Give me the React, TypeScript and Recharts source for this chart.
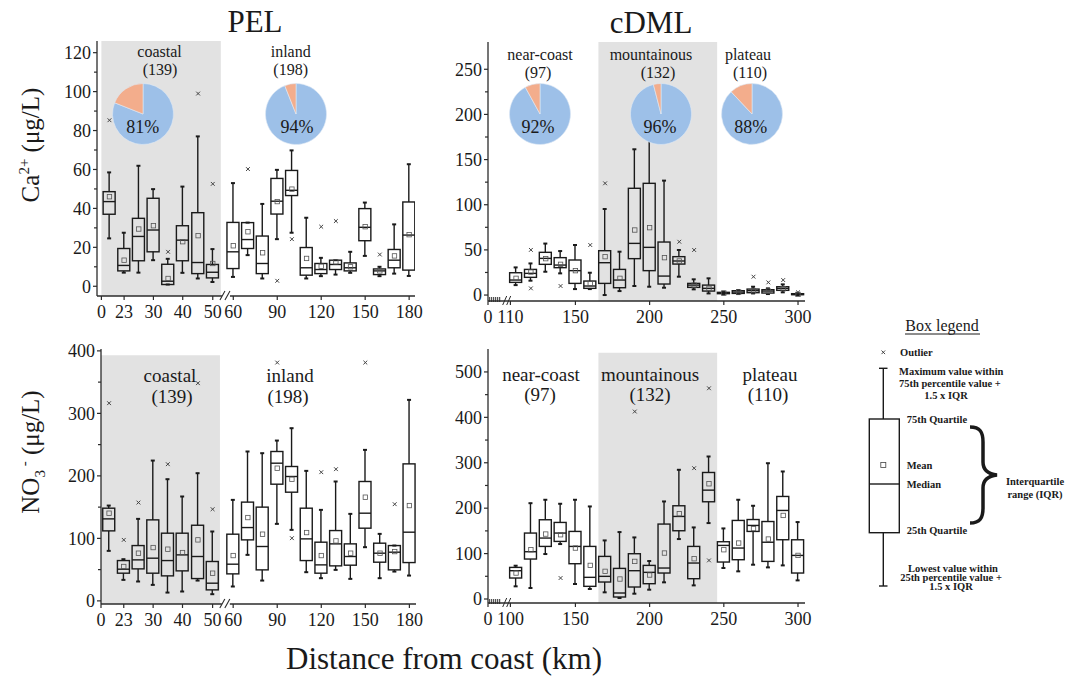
import React from "react";
import {
  ComposedChart,
  Bar,
  Scatter,
  XAxis,
  YAxis,
  ReferenceArea,
  ReferenceDot,
  PieChart,
  Pie,
  Cell,
} from "recharts";

const SERIF = '"Liberation Serif", "Times New Roman", serif';
const INK = "#1a1a1a";
const AXIS = "#2b2b2b";
const SHADE = "#e2e2e2";
const BLUE = "#9dc0e8";
const SALMON = "#f3ad8c";

// ---- PEL (x in plotting slots, broken axis) ----
const pelSlots = [0.55, 1.55, 2.55, 3.55, 4.55, 5.55, 6.6, 7.6, 9, 10, 11, 12, 13, 14, 15, 16, 17, 18, 19, 20, 21];
const pelTicks = [0, 1.55, 3.55, 5.55, 7.6, 9, 12, 15, 18, 21];
const pelTickLabels = ["0", "23", "30", "40", "50", "60", "90", "120", "150", "180"];

const pelCaLow = [24.6, 7, 7, 13.4, 0.9, 6.9, 4, 2.2, 4.8, 16, 4, 24.2, 27.5, 4, 5.2, 6, 6.9, 15.6, 5.2, 6.5, 5.3];
const pelCaQ1 = [37, 7.9, 13.1, 17.7, 0.9, 13.1, 6.5, 4.3, 9.1, 19.4, 6.5, 37.1, 46.6, 5.7, 6.5, 8.6, 7.9, 23.4, 6, 9.5, 8.3];
const pelCaMedian = [43.5, 10.7, 25.6, 28.9, 2.6, 23.7, 12.2, 7.2, 17.7, 24, 11.7, 43.7, 49.3, 9.5, 8.6, 11.2, 9.5, 30.3, 7.9, 13.4, 26.3];
const pelCaQ3 = [48.6, 19.4, 34.9, 45.2, 11.3, 31.1, 37.8, 11.2, 32.8, 32.7, 25.8, 55.4, 59.5, 19.9, 11.7, 13.4, 12, 39.9, 8.9, 18.9, 43.3];
const pelCaHigh = [58.5, 27.5, 61.9, 49.9, 14.1, 51.2, 77, 19.1, 53, 32.7, 42.3, 59.8, 69.8, 35.2, 14.6, 13.4, 17.7, 43, 10, 31.8, 62.7];
const pelCaMean = [46, 13.4, 29.4, 31.1, 4, 22.9, 26, 11.7, 20.8, 28, 17.2, 43.5, 49.9, 14.3, 10.3, 12.5, 10, 30.6, 7.9, 15.6, 26.5];
const pelCaOutX = [0.55, 4.55, 6.6, 7.6, 10, 12, 13, 15, 16, 19];
const pelCaOutY = [85.3, 17.7, 99, 52.6, 60.2, 2.8, 24.2, 30.6, 33.5, 16.3];

const pelNoLow = [80, 33.6, 31, 25.6, 13.3, 15, 32.5, 10.7, 23, 73.6, 32.5, 123.2, 113.6, 45.9, 36.3, 49.6, 35.2, 85.9, 36.3, 46.9, 40.5];
const pelNoQ1 = [112, 44.3, 51.2, 44.3, 40, 48, 35.7, 17.6, 43.2, 97.6, 49.6, 186.7, 173.9, 64.5, 44.3, 56, 57.1, 116.3, 61.9, 49.6, 61.3];
const pelNoMedian = [131.2, 50.7, 65.6, 68.3, 64.5, 73.6, 71, 28.3, 58.7, 117.3, 87, 220.3, 199, 99.2, 57.6, 91.2, 71, 140.3, 76.3, 77.9, 109.9];
const pelNoQ3 = [148.3, 64.5, 88.5, 129.6, 108.3, 108.3, 121, 63, 106.7, 158, 150, 239, 215, 148.3, 93.9, 112.5, 91.2, 191, 92.3, 88.5, 219.2];
const pelNoHigh = [152.5, 66.7, 131.2, 224.5, 194.7, 167, 204.3, 111, 161.6, 239, 236.3, 256.5, 276.3, 208, 145.6, 191, 139.2, 241.6, 107.2, 88.5, 321.6];
const pelNoMean = [140.3, 55, 76.3, 85.3, 82.7, 77.3, 97.6, 44.3, 72.5, 133.3, 106.7, 212.3, 194.7, 109.3, 72.5, 96, 76.3, 165.9, 76.3, 78.9, 152.5];
const pelNoOutX = [0.55, 1.55, 2.55, 4.55, 6.6, 7.6, 12, 13, 15, 16, 18, 20];
const pelNoOutY = [316.3, 97.6, 157.3, 218.7, 348.3, 146.7, 381.3, 100.3, 205.9, 210.7, 381.3, 154.7];

// ---- cDML (x in km) ----
const cdmlKm = [110, 120, 130, 140, 150, 160, 170, 180, 190, 200, 210, 220, 230, 240, 250, 260, 270, 280, 290, 300];
const cdmlTicks = [91.1, 106.2, 150, 200, 250, 300];
const cdmlCaTickLabels = ["0", "110", "150", "200", "250", "300"];
const cdmlNoTickLabels = ["0", "100", "150", "200", "250", "300"];

const cdmlCaLow = [11, 15.9, 25.8, 24, 6.6, 6.6, 0, 4.4, 10, 9.2, 8.1, 20.3, 6.3, 1.8, 0.7, 1.1, 1.8, 1.1, 3, 0];
const cdmlCaQ1 = [14, 19.6, 34, 30.3, 12.9, 7.4, 12.9, 8.1, 40.3, 27, 12.2, 34.3, 8.5, 4.4, 1.5, 1.8, 2.6, 2.2, 5.2, 0.4];
const cdmlCaMedian = [16.6, 24, 40.6, 33.2, 27, 10, 35.8, 16.6, 57.2, 52.8, 21, 37.7, 11, 7.4, 2.2, 3.3, 4.8, 4.4, 7.4, 0.7];
const cdmlCaQ3 = [24.7, 28.4, 47.3, 41.4, 38.8, 15.5, 49.1, 28.4, 118.2, 123.7, 58.7, 42.5, 12.9, 11, 3, 4.8, 6.6, 5.9, 9.2, 1.5];
const cdmlCaHigh = [30.6, 35, 57, 48.7, 55.4, 24.7, 95.3, 48, 161.4, 185, 126.7, 49.9, 17.4, 18.5, 3.7, 5.5, 9.2, 7.4, 11.8, 2.2];
const cdmlCaMean = [18.5, 25.5, 40.3, 34, 27, 12.9, 42.5, 18.5, 72, 74.6, 41.4, 37.7, 11, 7.4, 2.2, 3.3, 4.8, 4.4, 7, 0.7];
const cdmlCaOutX = [120, 120, 140, 160, 170, 220, 230, 270, 280, 290, 300];
const cdmlCaOutY = [50, 7.4, 10, 55.4, 123.7, 59, 49.9, 20.3, 14, 16.6, 3];

const cdmlNoLow = [27.9, 24.2, 99, 121, 33, 22, 14.7, 2.2, 11.7, 20.5, 36.7, 132, 30, 167.2, 68.2, 60.9, 75.5, 69.6, 74, 41];
const cdmlNoQ1 = [46.2, 88, 115.8, 126.8, 77.7, 27.9, 37.4, 4.4, 26.4, 33.7, 57.2, 150.3, 44.7, 214.1, 81.4, 86.5, 148.8, 82.8, 130.5, 57.2];
const cdmlNoMedian = [62.3, 104.1, 134.2, 145.2, 115.8, 47.7, 49.9, 13.2, 62.3, 58.7, 68.2, 181.8, 79.2, 239.7, 118, 112.2, 162, 125, 195, 96];
const cdmlNoQ3 = [69.6, 145.2, 174.5, 168.6, 148.8, 115.8, 93.8, 67.4, 99.7, 74, 165, 205.3, 115.8, 278.6, 126.1, 173, 175, 170.6, 225.8, 130.4];
const cdmlNoHigh = [73.3, 211, 218.5, 209.7, 218.5, 203.8, 129, 147.4, 135.6, 83.6, 214.8, 284.5, 157.6, 313.8, 155.4, 218.5, 205.3, 299, 280.8, 169.4];
const cdmlNoMean = [57.2, 108.5, 143, 141.5, 112.2, 74, 60.9, 44, 82.8, 52.8, 101.2, 187.7, 88.7, 253.7, 108.5, 123.2, 155, 132, 184, 96];
const cdmlNoOutX = [140, 190, 230, 240, 240];
const cdmlNoOutY = [46.2, 412.8, 288.1, 464, 85];

// pies: share of blue / salmon slices
const pelRegions = ["coastal", "inland"];
const pelCounts = ["(139)", "(198)"];
const pelBlue = [81, 94];
const pelSalmon = [19, 6];
const cdmlRegions = ["near-coast", "mountainous", "plateau"];
const cdmlCounts = ["(97)", "(132)", "(110)"];
const cdmlBlue = [92, 96, 88];
const cdmlSalmon = [8, 4, 12];

const caPelTicksY = [0, 10, 20, 30, 40, 50, 60, 70, 80, 90, 100, 110, 120];
const caCdmlTicksY = [0, 25, 50, 75, 100, 125, 150, 175, 200, 225, 250];
const noPelTicksY = [0, 50, 100, 150, 200, 250, 300, 350, 400];
const noCdmlTicksY = [0, 50, 100, 150, 200, 250, 300, 350, 400, 450, 500];

const makeRows = (xs: number[], low: number[], q1: number[], median: number[], q3: number[], high: number[], mean: number[]) =>
  xs.map((x, i) => ({ x, low: low[i], q1: q1[i], median: median[i], q3: q3[i], high: high[i], mean: mean[i] }));
const makePoints = (xs: number[], ys: number[]) => xs.map((x, i) => ({ x, y: ys[i] }));

const BoxShape = (props: any) => {
  const { x, y, width, height, payload } = props;
  if (!payload || x == null || y == null) return null;
  const top = Math.min(y, y + height);
  const bottom = Math.max(y, y + height);
  const span = payload.high - payload.low;
  const toY = (v: number) => (span > 0 ? bottom - ((v - payload.low) / span) * (bottom - top) : bottom);
  const cx = x + width / 2;
  const yq1 = toY(payload.q1);
  const yq3 = toY(payload.q3);
  const ymed = toY(payload.median);
  return (
    <g stroke={INK} fill="none">
      <line x1={cx} x2={cx} y1={top} y2={yq3} strokeWidth={1.4} />
      <line x1={cx} x2={cx} y1={yq1} y2={bottom} strokeWidth={1.4} />
      <line x1={cx - 2} x2={cx + 2} y1={top} y2={top} strokeWidth={2} />
      <line x1={cx - 2} x2={cx + 2} y1={bottom} y2={bottom} strokeWidth={2} />
      <rect x={x} y={yq3} width={width} height={Math.max(yq1 - yq3, 0.6)} strokeWidth={1.4} />
      <line x1={x} x2={x + width} y1={ymed} y2={ymed} strokeWidth={1.4} />
    </g>
  );
};

const MeanMark = (props: any) => {
  const { cx, cy } = props;
  if (cx == null || cy == null) return null;
  return <rect x={cx - 2.2} y={cy - 2.2} width={4.4} height={4.4} fill="none" stroke="#555" strokeWidth={0.8} />;
};

const OutlierMark = (props: any) => {
  const { cx, cy } = props;
  if (cx == null || cy == null) return null;
  return (
    <g stroke="#444" strokeWidth={1}>
      <line x1={cx - 1.9} x2={cx + 1.9} y1={cy - 1.9} y2={cy + 1.9} />
      <line x1={cx - 1.9} x2={cx + 1.9} y1={cy + 1.9} y2={cy - 1.9} />
    </g>
  );
};

const SlashBreak = (props: any) => {
  const { cx, cy } = props;
  if (cx == null) return null;
  return (
    <g>
      <rect x={cx - 4} y={cy - 2} width={8} height={4} fill="#fff" />
      <line x1={cx - 6} x2={cx - 1} y1={cy + 4} y2={cy - 5} stroke={AXIS} strokeWidth={1.1} />
      <line x1={cx - 1} x2={cx + 4} y1={cy + 4} y2={cy - 5} stroke={AXIS} strokeWidth={1.1} />
    </g>
  );
};

const HatchBreak = (props: any) => {
  const { cx, cy } = props;
  if (cx == null) return null;
  const bars = [-13, -11, -9, -7, -5, -3];
  return (
    <g stroke={AXIS} strokeWidth={1}>
      {bars.map((d) => (
        <line key={d} x1={cx + d} x2={cx + d} y1={cy - 4} y2={cy + 1} />
      ))}
      <line x1={cx} x2={cx + 4} y1={cy + 4} y2={cy - 5} />
      <line x1={cx + 4} x2={cx + 8} y1={cy + 4} y2={cy - 5} />
    </g>
  );
};

const XTick = ({ x, y, payload, ticks, labels }: any) => {
  const i = ticks.findIndex((t: number) => Math.abs(t - payload.value) < 1e-6);
  return (
    <g>
      <line x1={x} x2={x} y1={y} y2={y + 4} stroke={AXIS} strokeWidth={1.2} />
      <text x={x} y={y + 22} textAnchor="middle" fontFamily={SERIF} fontSize={18} fill={INK}>
        {labels[i]}
      </text>
    </g>
  );
};

const YTick = ({ x, y, payload, major }: any) => {
  const isMajor = payload.value % major === 0;
  return (
    <g>
      <line x1={x} x2={x - (isMajor ? 4 : 3)} y1={y} y2={y} stroke={AXIS} strokeWidth={1.2} />
      {isMajor && (
        <text x={x - 6} y={y} dy="0.35em" textAnchor="end" fontFamily={SERIF} fontSize={18} fill={INK}>
          {payload.value}
        </text>
      )}
    </g>
  );
};

type PanelProps = {
  left: number;
  top: number;
  width: number;
  height: number;
  rows: any[];
  outliers: { x: number; y: number }[];
  xDomain: [number, number];
  yDomain: [number, number];
  xTicks: number[];
  xLabels: string[];
  yTicks: number[];
  yMajor: number;
  shade: [number, number];
  shadeTop?: number;
  breakAt: number;
  hatch?: boolean;
};

const M_TOP = 15;
const M_RIGHT = 25;
const Y_W = 50;
const X_H = 30;

const Panel = (p: PanelProps) => (
  <div style={{ position: "absolute", left: p.left - Y_W, top: p.top - M_TOP }}>
    <ComposedChart
      width={p.width + Y_W + M_RIGHT}
      height={p.height + M_TOP + X_H}
      data={p.rows}
      margin={{ top: M_TOP, right: M_RIGHT, bottom: 0, left: 0 }}
    >
      <ReferenceArea
        x1={p.shade[0]}
        x2={p.shade[1]}
        y1={p.yDomain[0]}
        y2={p.shadeTop ?? p.yDomain[1]}
        fill={SHADE}
        fillOpacity={1}
        stroke="none"
      />
      <XAxis
        type="number"
        dataKey="x"
        domain={p.xDomain}
        allowDataOverflow
        ticks={p.xTicks}
        interval={0}
        tickSize={0}
        tickMargin={0}
        tickLine={false}
        height={X_H}
        axisLine={{ stroke: AXIS, strokeWidth: 1.3 }}
        tick={(t: any) => <XTick {...t} ticks={p.xTicks} labels={p.xLabels} />}
      />
      <YAxis
        type="number"
        domain={p.yDomain}
        allowDataOverflow
        ticks={p.yTicks}
        interval={0}
        tickSize={0}
        tickMargin={0}
        tickLine={false}
        width={Y_W}
        axisLine={{ stroke: AXIS, strokeWidth: 1.3 }}
        tick={(t: any) => <YTick {...t} major={p.yMajor} />}
      />
      <Bar dataKey={(d: any) => [d.low, d.high]} barSize={12} shape={<BoxShape />} isAnimationActive={false} />
      <Scatter dataKey="mean" shape={<MeanMark />} isAnimationActive={false} />
      <Scatter data={p.outliers} dataKey="y" shape={<OutlierMark />} isAnimationActive={false} />
      <ReferenceDot
        x={p.breakAt}
        y={p.yDomain[0]}
        r={0}
        ifOverflow="visible"
        shape={p.hatch ? <HatchBreak /> : <SlashBreak />}
      />
    </ComposedChart>
  </div>
);

const PieInset = ({ cx, cy, blue, salmon }: { cx: number; cy: number; blue: number; salmon: number }) => (
  <div style={{ position: "absolute", left: cx - 35, top: cy - 35 }}>
    <PieChart width={70} height={70} margin={{ top: 0, right: 0, bottom: 0, left: 0 }}>
      <Pie
        data={[
          { name: "Ca", value: blue },
          { name: "other", value: salmon },
        ]}
        dataKey="value"
        cx={35}
        cy={35}
        outerRadius={30.5}
        startAngle={90}
        endAngle={-270}
        stroke="#dfe9f5"
        strokeWidth={0.6}
        isAnimationActive={false}
      >
        <Cell fill={BLUE} />
        <Cell fill={SALMON} />
      </Pie>
    </PieChart>
  </div>
);

const T = (props: any) => <text fontFamily={SERIF} fill={INK} textAnchor="middle" {...props} />;
const B = (props: any) => <text fontFamily={SERIF} fill={INK} fontWeight="bold" fontSize={10.5} {...props} />;

export default function App() {
  const pelCaRows = makeRows(pelSlots, pelCaLow, pelCaQ1, pelCaMedian, pelCaQ3, pelCaHigh, pelCaMean);
  const pelNoRows = makeRows(pelSlots, pelNoLow, pelNoQ1, pelNoMedian, pelNoQ3, pelNoHigh, pelNoMean);
  const cdmlCaRows = makeRows(cdmlKm, cdmlCaLow, cdmlCaQ1, cdmlCaMedian, cdmlCaQ3, cdmlCaHigh, cdmlCaMean);
  const cdmlNoRows = makeRows(cdmlKm, cdmlNoLow, cdmlNoQ1, cdmlNoMedian, cdmlNoQ3, cdmlNoHigh, cdmlNoMean);

  return (
    <div style={{ position: "absolute", left: 0, top: 0, width: 1065, height: 680, background: "#fff", fontFamily: SERIF }}>
      <Panel
        left={97} top={41} width={318} height={255}
        rows={pelCaRows} outliers={makePoints(pelCaOutX, pelCaOutY)}
        xDomain={[-0.3, 21.4]} yDomain={[-5, 126]}
        xTicks={pelTicks} xLabels={pelTickLabels}
        yTicks={caPelTicksY} yMajor={20}
        shade={[0, 8.15]} breakAt={8.5}
      />
      <Panel
        left={100.5} top={349} width={315} height={255}
        rows={pelNoRows} outliers={makePoints(pelNoOutX, pelNoOutY)}
        xDomain={[0, 21.45]} yDomain={[-5, 403]}
        xTicks={pelTicks} xLabels={pelTickLabels}
        yTicks={noPelTicksY} yMajor={100}
        shade={[0, 8.1]} shadeTop={393} breakAt={8.5}
      />
      <Panel
        left={488} top={42} width={317} height={259}
        rows={cdmlCaRows} outliers={makePoints(cdmlCaOutX, cdmlCaOutY)}
        xDomain={[91.1, 304.7]} yDomain={[-6.6, 280.2]}
        xTicks={cdmlTicks} xLabels={cdmlCaTickLabels}
        yTicks={caCdmlTicksY} yMajor={50}
        shade={[165.5, 245.5]} breakAt={101} hatch
      />
      <Panel
        left={488} top={349} width={317} height={254}
        rows={cdmlNoRows} outliers={makePoints(cdmlNoOutX, cdmlNoOutY)}
        xDomain={[91.1, 304.7]} yDomain={[-8.8, 550.5]}
        xTicks={cdmlTicks} xLabels={cdmlNoTickLabels}
        yTicks={noCdmlTicksY} yMajor={100}
        shade={[165.5, 245.5]} shadeTop={542} breakAt={101} hatch
      />

      <PieInset cx={142.7} cy={113.5} blue={pelBlue[0]} salmon={pelSalmon[0]} />
      <PieInset cx={296} cy={113.5} blue={pelBlue[1]} salmon={pelSalmon[1]} />
      <PieInset cx={540} cy={113.5} blue={cdmlBlue[0]} salmon={cdmlSalmon[0]} />
      <PieInset cx={660.8} cy={113.5} blue={cdmlBlue[1]} salmon={cdmlSalmon[1]} />
      <PieInset cx={751.5} cy={113.5} blue={cdmlBlue[2]} salmon={cdmlSalmon[2]} />

      <svg width={1065} height={680} style={{ position: "absolute", left: 0, top: 0, pointerEvents: "none" }}>
        {/* titles */}
        <T x={255} y={32} fontSize={31}>PEL</T>
        <T x={651} y={33} fontSize={31}>cDML</T>
        <T x={444} y={669} fontSize={31}>Distance from coast (km)</T>

        {/* y axis titles */}
        <T transform="translate(39,145) rotate(-90)" fontSize={25}>
          Ca<tspan dy={-10} fontSize={15}>2+</tspan>
          <tspan dy={10}> (μg/L)</tspan>
        </T>
        <T transform="translate(39,452) rotate(-90)" fontSize={25}>
          NO<tspan dy={6} fontSize={15}>3</tspan>
          <tspan dy={-16} fontSize={15}> -</tspan>
          <tspan dy={10}> (μg/L)</tspan>
        </T>

        {/* region labels, top row */}
        <T x={159.5} y={57} fontSize={16}>{pelRegions[0]}</T>
        <T x={160} y={75} fontSize={16}>{pelCounts[0]}</T>
        <T x={290.7} y={57} fontSize={16}>{pelRegions[1]}</T>
        <T x={290.7} y={75} fontSize={16}>{pelCounts[1]}</T>
        <T x={540} y={60} fontSize={16}>{cdmlRegions[0]}</T>
        <T x={538} y={78} fontSize={16}>{cdmlCounts[0]}</T>
        <T x={651} y={60} fontSize={16}>{cdmlRegions[1]}</T>
        <T x={658} y={78} fontSize={16}>{cdmlCounts[1]}</T>
        <T x={748} y={60} fontSize={16}>{cdmlRegions[2]}</T>
        <T x={750} y={78} fontSize={16}>{cdmlCounts[2]}</T>

        {/* pie percentages */}
        <T x={142.7} y={133} fontSize={18}>{pelBlue[0]}%</T>
        <T x={297} y={133} fontSize={18}>{pelBlue[1]}%</T>
        <T x={538} y={133} fontSize={18}>{cdmlBlue[0]}%</T>
        <T x={660} y={133} fontSize={18}>{cdmlBlue[1]}%</T>
        <T x={750.7} y={133} fontSize={18}>{cdmlBlue[2]}%</T>

        {/* region labels, bottom row */}
        <T x={170} y={382} fontSize={19}>{pelRegions[0]}</T>
        <T x={172} y={403} fontSize={19}>{pelCounts[0]}</T>
        <T x={290} y={382} fontSize={19}>{pelRegions[1]}</T>
        <T x={288} y={403} fontSize={19}>{pelCounts[1]}</T>
        <T x={541} y={381} fontSize={19}>{cdmlRegions[0]}</T>
        <T x={540} y={401} fontSize={19}>{cdmlCounts[0]}</T>
        <T x={650} y={381} fontSize={19}>{cdmlRegions[1]}</T>
        <T x={650} y={401} fontSize={19}>{cdmlCounts[1]}</T>
        <T x={770} y={381} fontSize={19}>{cdmlRegions[2]}</T>
        <T x={768} y={401} fontSize={19}>{cdmlCounts[2]}</T>

        {/* box legend */}
        <g transform="translate(840,310)">
          <T x={102} y={21} fontSize={16}>Box legend</T>
          <line x1={65} x2={140} y1={24} y2={24} stroke={INK} strokeWidth={1} />

          <g stroke="#333" strokeWidth={0.9}>
            <line x1={41.5} x2={45.1} y1={40.5} y2={44.1} />
            <line x1={41.5} x2={45.1} y1={44.1} y2={40.5} />
          </g>
          <B x={60} y={46}>Outlier</B>

          <g stroke={INK} fill="none" strokeWidth={1.4}>
            <line x1={39} x2={47.5} y1={58.3} y2={58.3} />
            <line x1={43.3} x2={43.3} y1={58.3} y2={109} />
            <rect x={29.3} y={109} width={30} height={113.7} />
            <line x1={29.3} x2={59.3} y1={174} y2={174} />
            <line x1={43.3} x2={43.3} y1={222.7} y2={276} />
            <line x1={39} x2={47.5} y1={276} y2={276} />
          </g>
          <rect x={40.8} y={152.5} width={5} height={5} fill="none" stroke="#444" strokeWidth={0.8} />

          <B x={59} y={65}>Maximum value within</B>
          <B x={59} y={77}>75th percentile value +</B>
          <B x={106} y={89} textAnchor="middle">1.5 x IQR</B>
          <B x={66.7} y={113}>75th Quartile</B>
          <B x={66.7} y={159}>Mean</B>
          <B x={66.7} y={178}>Median</B>
          <B x={66.7} y={224}>25th Quartile</B>

          <path
            d="M130,117 C140,117 143,122 143,132 L143,152 C143,160 148,164 157,165 C148,166 143,170 143,178 L143,198 C143,208 140,213 130,213"
            fill="none"
            stroke={INK}
            strokeWidth={3.5}
          />
          <B x={195} y={175} textAnchor="middle">Interquartile</B>
          <B x={195} y={188} textAnchor="middle">range (IQR)</B>

          <B x={113} y={262} textAnchor="middle">Lowest value within</B>
          <B x={111} y={271} textAnchor="middle">25th percentile value +</B>
          <B x={111} y={280} textAnchor="middle">1.5 x IQR</B>
        </g>
      </svg>
    </div>
  );
}
